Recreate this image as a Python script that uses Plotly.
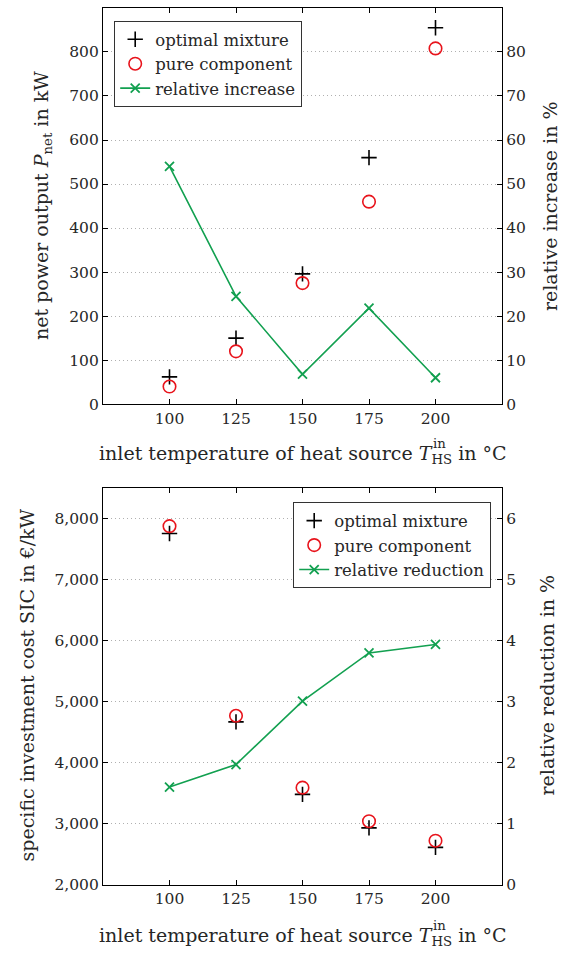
import plotly.graph_objects as go
from plotly.subplots import make_subplots

# ---- data ----
temps = [100, 125, 150, 175, 200]
power_optimal = [62, 150, 296, 560, 855]
power_pure = [40, 120, 275, 460, 808]
power_rel_increase = [54.0, 24.5, 6.8, 21.8, 6.0]

sic_optimal = [7760, 4670, 3480, 2930, 2610]
sic_pure = [7880, 4770, 3590, 3040, 2720]
sic_rel_reduction = [1.60, 1.97, 3.01, 3.80, 3.94]

x_ticks = [100, 125, 150, 175, 200]
p_ticks = [0, 100, 200, 300, 400, 500, 600, 700, 800]
inc_ticks = [0, 10, 20, 30, 40, 50, 60, 70, 80]
sic_ticks = [2000, 3000, 4000, 5000, 6000, 7000, 8000]
red_ticks = [0, 1, 2, 3, 4, 5, 6]

W, H = 563, 957
FONT = "DejaVu Serif"
FS = 15.5
LFS = 16.5
TFS = 19
GREEN = "#12a050"
RED = "#e8141c"
TXT = "#262626"

fig = make_subplots(rows=2, cols=1, specs=[[{"secondary_y": True}], [{"secondary_y": True}]])

def add_panel(row, opt, pure, rel, rel_name, legend):
    fig.add_trace(go.Scatter(x=temps, y=opt, mode="markers", name="optimal mixture",
                             marker=dict(symbol="cross-thin", size=11, color="black",
                                         line=dict(color="black", width=1.6)),
                             legend=legend), row=row, col=1, secondary_y=False)
    fig.add_trace(go.Scatter(x=temps, y=pure, mode="markers", name="pure component",
                             marker=dict(symbol="circle-open", size=12.5, color=RED,
                                         line=dict(color=RED, width=1.6)),
                             legend=legend), row=row, col=1, secondary_y=False)
    fig.add_trace(go.Scatter(x=temps, y=rel, mode="lines+markers", name=rel_name,
                             line=dict(color=GREEN, width=1.6),
                             marker=dict(symbol="x-thin", size=9, color=GREEN,
                                         line=dict(color=GREEN, width=1.8)),
                             legend=legend), row=row, col=1, secondary_y=True)

add_panel(1, power_optimal, power_pure, power_rel_increase, "relative increase", "legend")
add_panel(2, sic_optimal, sic_pure, sic_rel_reduction, "relative reduction", "legend2")

xd = [103 / W, 502 / W]
top_dom = [1 - 408 / H, 1 - 8 / H]
bot_dom = [1 - 893 / H, 1 - 493 / H]

tickfont = dict(family=FONT, size=FS, color=TXT)
axis_common = dict(showline=True, linecolor="black", linewidth=1.2, ticks="inside",
                   ticklen=5, tickcolor="black", tickwidth=1.2, tickfont=tickfont,
                   zeroline=False)
grid = dict(showgrid=True, gridcolor="#b0b0b0", griddash="1px,3px", gridwidth=1)

fig.update_layout(
    width=W, height=H, margin=dict(l=0, r=0, t=0, b=0),
    paper_bgcolor="white", plot_bgcolor="white",
    font=dict(family=FONT, size=FS, color=TXT),
    xaxis=dict(domain=xd, range=[75, 225], tickvals=x_ticks, mirror="ticks",
               showgrid=False, **axis_common),
    xaxis2=dict(domain=xd, range=[75, 225], tickvals=x_ticks, mirror="ticks",
                showgrid=False, **axis_common),
    yaxis=dict(domain=top_dom, range=[0, 900], tickvals=p_ticks, **grid, **axis_common),
    yaxis2=dict(range=[0, 90], tickvals=inc_ticks, showgrid=False, **axis_common),
    yaxis3=dict(domain=bot_dom, range=[2000, 8500], tickvals=sic_ticks, tickformat=",d",
                **grid, **axis_common),
    yaxis4=dict(range=[0, 6.5], tickvals=red_ticks, showgrid=False, **axis_common),
    legend=dict(x=114 / W, y=1 - 21 / H, xanchor="left", yanchor="top",
                bgcolor="white", bordercolor="#333333", borderwidth=1.2,
                font=dict(family=FONT, size=LFS, color=TXT), tracegroupgap=0),
    legend2=dict(x=491 / W, y=1 - 507 / H, xanchor="right", yanchor="top",
                 bgcolor="white", bordercolor="#333333", borderwidth=1.2,
                 font=dict(family=FONT, size=LFS, color=TXT), tracegroupgap=0),
)

tf = dict(family=FONT, size=TFS, color=TXT)
supf = dict(family=FONT, size=round(TFS * 0.7, 1), color=TXT)
xtitle = "inlet temperature of heat source <i>T</i><sub>HS</sub> in °C"
annots = [
    dict(text=xtitle, x=303 / W, y=1 - 459 / H, font=tf),
    dict(text=xtitle, x=303 / W, y=1 - 945 / H, font=tf),
    dict(text="in", x=431 / W, y=1 - 448 / H, font=supf, xanchor="left"),
    dict(text="in", x=431 / W, y=1 - 934 / H, font=supf, xanchor="left"),
    dict(text="net power output <i>P</i><sub>net</sub> in kW", x=42 / W, y=1 - 208 / H,
         textangle=-90, font=tf),
    dict(text="relative increase in %", x=550 / W, y=1 - 208 / H, textangle=-90, font=tf),
    dict(text="specific investment cost SIC in €/kW", x=27 / W, y=1 - 692 / H,
         textangle=-90, font=tf),
    dict(text="relative reduction in %", x=547 / W, y=1 - 692 / H, textangle=-90, font=tf),
]
for a in annots:
    a.setdefault("xanchor", "center")
    fig.add_annotation(xref="paper", yref="paper", showarrow=False,
                       yanchor="middle", **a)

fig.write_html("out.html")
